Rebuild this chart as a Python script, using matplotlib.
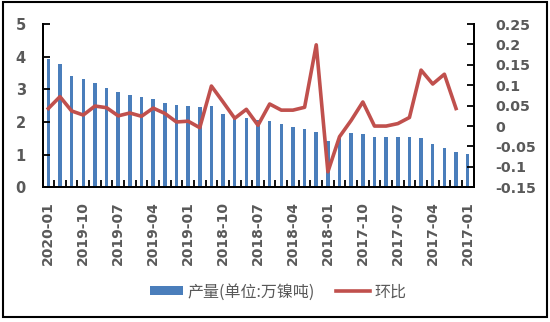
import numpy as np
import matplotlib.pyplot as plt
from matplotlib.patches import Rectangle

# monthly nickel output, newest first (2020-01 ... 2017-01)
month_labels = ['2020-01', '2019-10', '2019-07', '2019-04', '2019-01', '2018-10', '2018-07',
                '2018-04', '2018-01', '2017-10', '2017-07', '2017-04', '2017-01']
output = [3.92, 3.77, 3.41, 3.31, 3.18, 3.03, 2.91, 2.84, 2.76, 2.70, 2.59, 2.51, 2.49,
          2.46, 2.48, 2.24, 2.15, 2.11, 2.06, 2.02, 1.93, 1.86, 1.79, 1.70, 1.43, 1.58,
          1.65, 1.63, 1.55, 1.55, 1.55, 1.55, 1.51, 1.33, 1.20, 1.07, 1.03]
# month-on-month change, no value for the oldest month
mom = [0.043, 0.072, 0.037, 0.027, 0.049, 0.045, 0.025, 0.032, 0.024, 0.044, 0.031, 0.010,
       0.012, -0.004, 0.098, 0.059, 0.019, 0.041, 0.002, 0.054, 0.039, 0.039, 0.046, 0.199,
       -0.112, -0.026, 0.014, 0.059, 0.0, 0.0, 0.006, 0.021, 0.137, 0.103, 0.127, 0.043, np.nan]
left_ticks = [0, 1, 2, 3, 4, 5]
right_ticks = [-0.15, -0.1, -0.05, 0, 0.05, 0.1, 0.15, 0.2, 0.25]
right_labels = ['-0.15', '-0.1', '-0.05', '0', '0.05', '0.1', '0.15', '0.2', '0.25']

grey = '#595959'
x = np.arange(len(output))

fig = plt.figure(figsize=(5.5, 3.22), dpi=100)
ax = fig.add_axes([42.5 / 550, 1 - 187.3 / 322, 431 / 550, 163.3 / 322])
ax2 = ax.twinx()

bars = ax.bar(x, output, width=0.3, color='#4A7EBB', zorder=1)
line, = ax2.plot(x, mom, color='#C0504D', lw=2.6)

ax.set_xlim(-0.5, len(output) - 0.5)
ax.set_ylim(0, 5)
ax2.set_ylim(-0.15, 0.25)

ax.set_yticks(left_ticks)
ax.set_yticklabels([str(t) for t in left_ticks])
ax2.set_yticks(right_ticks)
ax2.set_yticklabels(right_labels)

# category ticks sit between bars, labels every third month
ax.set_xticks(np.arange(-0.5, len(output), 1.0))
ax.set_xticklabels([])
ax.set_xticks(np.arange(0, len(output), 3), minor=True)
ax.set_xticklabels(month_labels, minor=True, rotation=90)

for a in (ax, ax2):
    a.spines['top'].set_visible(False)
    for s in a.spines.values():
        s.set_linewidth(1.4)
ax.tick_params(axis='x', which='major', direction='in', length=5, width=1.3, color='black')
ax.tick_params(axis='x', which='minor', length=0, pad=10, labelsize=10, labelcolor=grey)
ax.tick_params(axis='y', direction='in', length=5, width=1.3, pad=12, labelsize=10.5, labelcolor=grey)
ax2.tick_params(axis='y', direction='in', length=5, width=1.3, pad=16, labelsize=10.3, labelcolor=grey)
for lbl in ax.get_xticklabels(minor=True) + ax.get_yticklabels() + ax2.get_yticklabels():
    lbl.set_fontweight('bold')

leg = fig.legend([bars, line], ['产量(单位:万镍吨)', '环比'], loc='center',
                 bbox_to_anchor=(278 / 550, 1 - 292 / 322), ncol=2, frameon=False,
                 prop={'family': ['Noto Sans CJK SC', 'DejaVu Sans'], 'size': 11.5},
                 handlelength=2.1, handleheight=0.5, handletextpad=0.3, columnspacing=1.3)
for t in leg.get_texts():
    t.set_color(grey)

# outer frame round the whole picture
fig.patches.append(Rectangle((3 / 550, 1 - 317 / 322), 544 / 550, 315 / 322,
                             transform=fig.transFigure, fill=False, ec='black', lw=1.5))

fig.savefig('out.png', dpi=100)
